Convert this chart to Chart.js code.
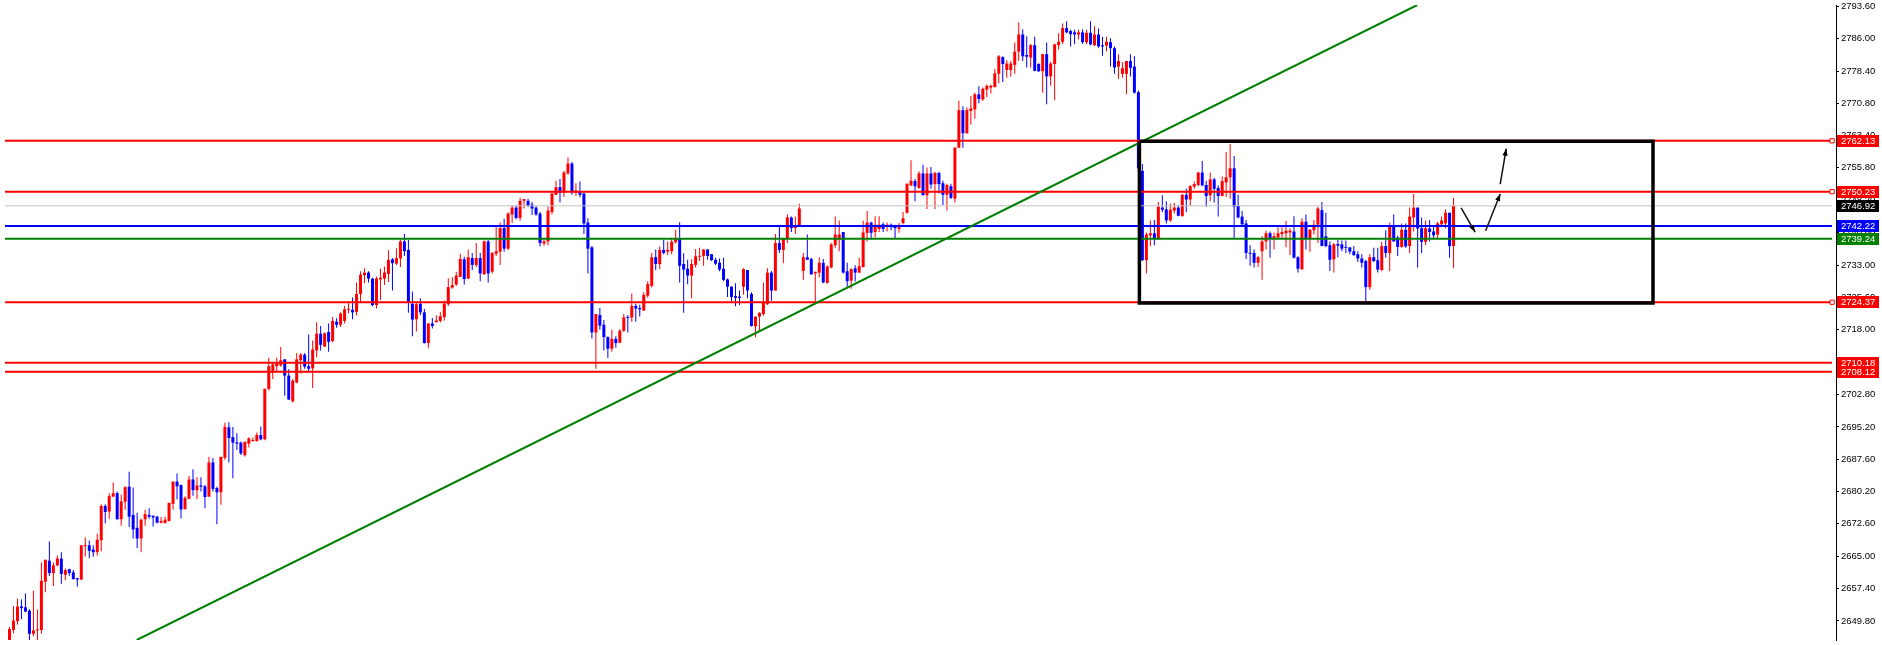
<!DOCTYPE html>
<html><head><meta charset="utf-8">
<script src="https://cdn.jsdelivr.net/npm/chart.js@4.4.1/dist/chart.umd.min.js"></script>
<style>html,body{margin:0;padding:0;background:#fff;overflow:hidden}canvas{display:block}</style>
</head><body>
<canvas id="c" width="1882" height="645"></canvas>
<script>
const openP = [
2643.7,2647.7,2649.8,2653.2,2653.0,2652.2,2646.8,2647.6,2647.7,2659.0,
2663.9,2661.0,2662.8,2664.4,2660.6,2661.9,2661.2,2659.8,2659.5,2667.3,
2667.5,2666.5,2665.9,2668.7,2676.7,2675.4,2678.9,2679.7,2673.6,2677.7,
2681.2,2674.6,2671.6,2669.1,2673.6,2674.6,2674.4,2674.2,2672.8,2672.7,
2673.2,2677.2,2682.4,2681.6,2676.0,2678.4,2682.9,2680.4,2681.5,2681.3,
2678.9,2686.9,2680.9,2679.9,2688.0,2695.1,2692.8,2691.6,2691.5,2688.6,
2691.3,2691.9,2691.9,2693.3,2692.3,2704.1,2707.9,2709.4,2709.6,2711.0,
2707.2,2701.2,2705.6,2710.8,2712.1,2709.4,2708.9,2713.1,2717.0,2714.0,
2717.4,2715.3,2719.8,2719.1,2720.0,2722.6,2722.6,2722.1,2726.3,2730.7,
2731.3,2729.9,2723.7,2729.7,2729.9,2731.0,2734.4,2733.4,2734.6,2738.6,
2736.6,2724.0,2720.4,2724.0,2722.0,2714.8,2719.4,2719.7,2720.0,2720.9,
2723.9,2727.8,2728.5,2730.3,2734.4,2729.9,2734.7,2733.1,2734.7,2730.9,
2738.6,2731.5,2735.7,2736.2,2741.7,2736.9,2744.9,2746.5,2744.1,2748.1,
2748.1,2747.2,2746.5,2745.1,2738.1,2738.6,2745.5,2749.5,2751.3,2750.1,
2754.5,2756.8,2750.0,2750.4,2749.8,2743.0,2737.2,2717.3,2721.4,2719.1,
2716.2,2713.5,2715.8,2714.9,2717.7,2720.9,2720.8,2723.5,2723.0,2722.4,
2725.9,2728.2,2734.9,2733.3,2736.6,2736.2,2736.3,2738.4,2739.2,2733.3,
2732.2,2730.6,2733.1,2735.0,2735.2,2736.7,2735.6,2734.3,2733.6,2732.2,
2729.7,2728.0,2725.8,2725.7,2728.0,2731.9,2726.3,2718.7,2721.0,2721.6,
2723.9,2731.3,2727.1,2738.2,2736.6,2739.2,2744.2,2741.7,2742.3,2731.7,
2734.9,2734.5,2731.1,2731.3,2733.6,2728.9,2732.5,2737.7,2739.0,2740.8,
2731.6,2729.4,2732.3,2731.3,2732.6,2740.6,2743.0,2740.8,2741.5,2742.6,
2742.0,2742.5,2742.0,2741.5,2742.9,2745.3,2751.7,2752.7,2751.1,2754.5,
2749.4,2754.5,2752.0,2754.6,2752.2,2749.5,2751.5,2748.6,2760.5,2769.3,
2763.9,2769.1,2769.5,2773.0,2771.8,2774.1,2774.6,2774.7,2777.8,2781.7,
2778.7,2778.7,2779.9,2783.0,2787.0,2782.2,2781.6,2784.5,2780.1,2778.4,
2782.4,2777.2,2780.1,2784.5,2785.3,2788.5,2787.8,2787.5,2787.0,2787.5,
2785.2,2787.4,2784.5,2787.0,2784.5,2784.4,2785.2,2783.8,2779.5,2777.8,
2777.8,2780.8,2779.5,2773.5,2755.1,2734.2,2740.0,2740.5,2739.2,2746.5,
2746.1,2743.5,2745.8,2746.5,2744.5,2749.5,2748.4,2751.4,2751.8,2754.7,
2751.8,2749.4,2753.1,2751.1,2749.2,2752.4,2753.6,2755.7,2746.9,2744.4,
2742.8,2735.9,2735.9,2733.6,2736.3,2738.6,2740.5,2739.2,2739.5,2740.3,
2740.5,2740.7,2740.9,2734.9,2732.1,2743.2,2739.2,2741.2,2742.5,2745.9,
2739.8,2737.7,2734.4,2738.0,2737.9,2737.2,2737.2,2736.3,2735.6,2734.6,
2734.0,2727.9,2734.9,2734.2,2731.9,2737.5,2735.9,2742.1,2739.5,2737.3,
2741.3,2737.5,2744.2,2746.5,2741.7,2738.5,2741.6,2740.9,2740.2,2742.6,
2742.8,2745.3,2737.5];
const highP = [
2648.4,2653.3,2655.0,2654.8,2656.2,2652.6,2656.9,2652.5,2663.5,2664.2,
2668.4,2663.5,2665.1,2665.9,2662.1,2662.0,2661.7,2659.9,2667.6,2669.3,
2668.6,2667.5,2670.2,2677.1,2677.1,2679.7,2682.2,2680.1,2679.4,2681.3,
2684.7,2681.0,2675.1,2673.7,2675.8,2676.2,2674.5,2674.4,2674.1,2674.2,
2677.5,2682.5,2684.3,2681.7,2679.0,2683.7,2685.3,2683.4,2683.4,2681.6,
2688.2,2687.9,2681.2,2688.2,2696.2,2696.3,2695.2,2693.7,2691.8,2691.8,
2692.8,2692.7,2693.9,2695.3,2704.2,2711.4,2710.3,2711.4,2713.9,2711.1,
2708.7,2706.4,2712.5,2712.5,2712.5,2716.8,2715.4,2719.7,2718.8,2717.3,
2719.4,2720.9,2720.6,2722.0,2723.5,2724.5,2725.5,2729.0,2731.6,2732.3,
2731.6,2730.1,2730.4,2732.2,2732.7,2736.5,2734.7,2737.0,2739.1,2740.3,
2738.9,2726.9,2724.2,2725.3,2722.8,2719.5,2720.7,2721.3,2722.0,2724.7,
2730.0,2730.2,2731.5,2735.7,2735.0,2736.7,2735.9,2738.2,2735.9,2738.8,
2739.0,2736.1,2742.2,2743.0,2743.9,2745.4,2747.1,2747.1,2748.8,2748.5,
2748.6,2747.8,2746.8,2745.5,2739.0,2746.7,2750.0,2752.8,2753.2,2755.1,
2758.2,2757.2,2752.2,2752.6,2750.0,2744.0,2737.5,2721.6,2723.0,2720.2,
2716.4,2717.9,2716.4,2718.1,2721.6,2721.3,2726.4,2724.0,2723.8,2726.7,
2729.3,2735.9,2736.7,2737.4,2738.9,2738.6,2739.4,2741.3,2743.1,2735.8,
2734.3,2734.4,2736.8,2737.1,2736.8,2736.7,2735.6,2734.8,2734.6,2734.8,
2729.9,2728.1,2728.8,2727.1,2732.3,2731.9,2726.7,2721.0,2722.0,2729.0,
2732.3,2731.7,2740.3,2742.1,2739.2,2744.9,2744.4,2744.4,2747.4,2735.9,
2740.2,2734.8,2731.5,2734.9,2734.5,2733.0,2738.2,2744.4,2743.5,2740.8,
2733.6,2732.3,2733.0,2734.8,2743.4,2745.7,2743.2,2744.5,2744.5,2743.0,
2743.0,2742.8,2742.5,2742.9,2745.5,2752.1,2757.6,2753.2,2755.0,2756.5,
2755.9,2756.0,2754.9,2754.9,2752.8,2752.1,2752.1,2760.7,2771.5,2770.2,
2769.9,2772.6,2773.4,2774.9,2774.6,2775.3,2775.3,2778.9,2782.2,2781.9,
2781.0,2780.8,2785.1,2789.8,2788.2,2786.6,2784.8,2786.5,2780.3,2782.5,
2785.1,2780.6,2784.8,2787.3,2789.6,2790.1,2788.1,2788.1,2788.1,2788.2,
2788.1,2790.1,2788.9,2788.4,2786.5,2786.5,2786.1,2784.2,2782.4,2780.5,
2780.8,2782.4,2781.9,2773.9,2756.7,2740.7,2743.5,2743.6,2747.8,2749.4,
2748.0,2747.4,2747.6,2747.1,2749.7,2750.9,2751.8,2752.6,2754.9,2757.4,
2752.8,2754.7,2753.4,2751.7,2753.8,2759.5,2761.4,2758.6,2749.5,2745.7,
2743.6,2737.7,2736.7,2735.2,2739.8,2741.1,2740.9,2740.7,2741.9,2741.9,
2743.4,2741.7,2744.5,2735.1,2744.0,2744.9,2741.5,2743.6,2746.7,2747.8,
2745.3,2738.6,2738.2,2739.0,2738.8,2738.8,2737.2,2737.5,2736.3,2735.6,
2734.3,2735.6,2737.1,2737.1,2738.5,2741.2,2743.0,2744.9,2739.9,2742.8,
2742.8,2746.5,2749.7,2746.5,2744.2,2743.5,2743.6,2742.1,2743.2,2744.4,
2746.1,2745.3,2748.8];
const lowP = [
2642.8,2646.9,2648.9,2650.2,2651.9,2645.3,2646.2,2645.3,2646.8,2656.5,
2660.3,2658.0,2662.6,2658.5,2659.4,2660.4,2659.5,2657.8,2659.4,2664.9,
2664.5,2664.8,2665.1,2666.1,2672.6,2673.7,2678.8,2673.5,2672.1,2675.8,
2671.8,2669.1,2666.8,2665.9,2672.1,2673.7,2671.9,2672.6,2672.6,2672.6,
2673.1,2675.8,2678.2,2673.8,2675.8,2678.3,2679.1,2678.3,2680.1,2676.2,
2678.8,2680.1,2672.4,2677.0,2687.5,2686.9,2683.2,2689.8,2688.6,2688.3,
2690.4,2691.7,2691.7,2692.1,2692.1,2703.7,2706.4,2708.2,2709.3,2702.5,
2701.5,2700.9,2705.4,2707.7,2708.8,2708.3,2704.3,2711.5,2713.1,2713.9,
2712.8,2715.0,2718.4,2718.6,2719.4,2721.8,2720.4,2721.3,2724.3,2728.8,
2729.0,2723.4,2722.9,2724.9,2728.4,2729.1,2727.1,2733.1,2732.6,2735.2,
2721.9,2716.4,2717.5,2721.4,2714.7,2713.6,2718.2,2719.6,2719.6,2720.1,
2723.5,2727.5,2728.2,2730.3,2728.5,2729.8,2731.9,2732.6,2729.3,2730.8,
2729.0,2731.1,2735.2,2733.1,2736.2,2736.6,2742.9,2743.8,2743.4,2746.3,
2746.7,2744.8,2744.6,2737.4,2737.6,2737.7,2744.9,2749.4,2747.7,2749.0,
2754.2,2749.5,2749.2,2748.9,2740.3,2731.1,2715.9,2708.8,2717.9,2713.1,
2711.3,2712.8,2713.7,2714.8,2717.4,2717.3,2719.8,2719.8,2721.0,2722.4,
2725.4,2727.8,2731.9,2732.1,2735.6,2735.4,2735.6,2738.1,2729.0,2721.9,
2728.6,2725.3,2732.5,2734.0,2732.9,2734.3,2734.0,2733.1,2731.6,2729.3,
2725.6,2724.3,2723.4,2723.7,2726.1,2725.3,2718.7,2716.2,2717.5,2721.2,
2723.7,2724.7,2727.1,2735.9,2733.5,2738.2,2740.8,2740.3,2742.1,2729.6,
2734.3,2730.8,2724.1,2730.2,2728.8,2728.7,2732.3,2737.1,2736.3,2731.1,
2728.0,2727.5,2729.2,2731.2,2732.5,2738.6,2739.0,2739.5,2740.8,2740.8,
2740.9,2741.2,2739.2,2740.6,2742.6,2745.1,2751.5,2748.0,2750.9,2749.4,
2746.2,2750.9,2746.2,2749.8,2747.1,2745.8,2748.5,2747.7,2760.5,2760.5,
2763.8,2765.9,2767.3,2770.9,2771.5,2772.4,2773.2,2774.6,2775.6,2775.9,
2776.9,2777.2,2777.8,2780.8,2780.8,2779.3,2779.3,2778.4,2778.2,2773.4,
2770.7,2775.0,2771.6,2783.5,2784.8,2787.3,2784.2,2784.7,2785.8,2784.8,
2784.7,2784.5,2784.3,2783.9,2782.0,2783.1,2779.5,2777.8,2776.6,2776.9,
2773.0,2777.2,2773.2,2754.7,2734.0,2731.1,2737.5,2737.7,2739.0,2745.4,
2742.8,2743.2,2745.1,2744.5,2744.4,2745.4,2746.9,2750.9,2751.5,2751.5,
2746.7,2748.0,2747.7,2744.4,2749.2,2749.0,2748.6,2739.2,2744.0,2742.3,
2734.5,2732.9,2732.5,2732.6,2729.6,2736.7,2734.8,2736.7,2739.2,2739.2,
2737.2,2735.4,2734.6,2731.3,2731.9,2736.7,2736.2,2740.2,2738.2,2737.5,
2737.2,2731.7,2731.3,2734.9,2736.3,2735.9,2735.6,2735.2,2733.8,2732.5,
2724.4,2727.3,2733.8,2731.3,2731.6,2734.8,2731.6,2738.5,2735.2,2737.1,
2737.1,2735.9,2740.9,2732.5,2735.9,2737.7,2738.6,2739.4,2739.2,2742.3,
2741.6,2734.8,2732.3];
const closeP = [
2647.9,2649.9,2653.2,2652.8,2652.0,2646.8,2647.6,2647.8,2659.2,2664.1,
2661.0,2662.8,2664.4,2660.8,2661.7,2661.0,2659.6,2659.5,2667.5,2667.5,
2666.2,2665.9,2668.8,2676.7,2675.3,2679.0,2679.7,2673.6,2677.8,2681.1,
2674.2,2671.2,2669.1,2673.5,2674.8,2674.2,2674.0,2672.8,2673.2,2673.5,
2677.4,2682.4,2681.3,2675.9,2678.6,2682.9,2680.4,2681.5,2681.2,2678.8,
2686.9,2680.7,2679.9,2688.2,2695.2,2692.6,2691.5,2691.3,2689.0,2691.7,
2692.5,2692.1,2693.3,2692.3,2704.1,2709.4,2709.8,2710.2,2710.8,2707.2,
2701.6,2706.0,2711.0,2712.1,2709.3,2708.8,2713.3,2717.0,2714.4,2717.1,
2715.1,2720.0,2719.1,2721.7,2722.7,2722.7,2722.0,2726.3,2730.8,2731.3,
2729.9,2723.7,2729.9,2730.1,2731.3,2734.3,2733.5,2734.7,2738.6,2736.3,
2724.2,2720.3,2723.9,2722.0,2714.8,2719.4,2718.8,2720.1,2721.1,2724.0,
2727.9,2728.4,2730.6,2734.5,2729.8,2734.9,2733.1,2734.7,2731.1,2738.6,
2731.1,2735.9,2736.3,2741.7,2736.9,2745.1,2746.5,2744.1,2748.1,2748.5,
2746.9,2746.3,2744.9,2738.2,2738.6,2745.8,2749.8,2751.3,2750.0,2754.7,
2756.8,2750.0,2750.5,2749.5,2742.8,2736.9,2717.3,2721.6,2718.9,2716.2,
2713.5,2715.8,2714.8,2717.7,2720.8,2720.7,2723.5,2722.9,2722.7,2726.1,
2728.6,2734.9,2733.3,2736.6,2735.9,2736.6,2738.5,2739.2,2732.9,2732.0,
2730.6,2733.3,2735.1,2735.2,2736.7,2735.2,2734.2,2733.4,2732.0,2729.6,
2728.0,2725.6,2725.4,2725.4,2732.1,2727.1,2718.8,2721.0,2721.9,2724.4,
2731.3,2727.1,2738.2,2736.6,2739.2,2744.2,2741.7,2742.1,2746.3,2734.9,
2734.3,2730.9,2731.5,2733.6,2729.0,2732.7,2737.9,2740.2,2740.2,2731.3,
2729.3,2732.1,2731.3,2732.8,2740.7,2743.0,2740.6,2742.5,2742.5,2741.5,
2742.5,2741.9,2741.7,2741.9,2744.0,2752.1,2752.8,2751.5,2754.5,2749.4,
2754.5,2751.9,2754.6,2752.0,2749.5,2751.8,2748.8,2760.5,2769.3,2763.9,
2769.3,2769.7,2773.0,2771.9,2774.3,2775.0,2775.0,2777.9,2781.9,2780.1,
2780.2,2780.2,2783.0,2787.0,2781.9,2781.8,2784.5,2778.5,2778.4,2782.4,
2777.2,2780.2,2784.7,2785.3,2788.5,2787.5,2787.1,2787.0,2787.5,2785.2,
2787.4,2784.7,2787.0,2784.2,2784.2,2785.3,2783.8,2779.3,2780.8,2779.1,
2780.8,2779.2,2773.4,2755.7,2734.2,2740.2,2740.5,2739.2,2746.7,2746.0,
2743.5,2746.0,2746.5,2744.6,2749.5,2748.4,2751.5,2752.0,2754.7,2751.7,
2749.2,2753.1,2750.9,2749.2,2752.7,2753.6,2755.7,2746.7,2744.2,2742.6,
2735.9,2735.7,2733.6,2734.9,2738.6,2740.5,2739.2,2739.8,2740.5,2740.8,
2741.1,2741.1,2734.8,2732.2,2743.2,2739.2,2741.3,2742.5,2746.3,2737.5,
2737.5,2734.3,2737.9,2737.6,2736.9,2737.1,2736.2,2735.4,2734.6,2733.6,
2727.9,2734.9,2734.0,2732.0,2737.5,2735.9,2742.1,2738.6,2737.3,2741.3,
2737.4,2744.4,2746.5,2741.6,2738.5,2741.7,2740.8,2740.0,2742.8,2743.5,
2745.3,2737.5,2746.9];

// price axis ticks
const yTickValues = [2793.6,2786.0,2778.4,2770.8,2763.4,2755.8,2748.2,2740.6,2733.0,2725.6,
  2718.0,2710.4,2702.8,2695.2,2687.6,2680.2,2672.6,2665.0,2657.4,2649.8];
// horizontal levels
const levelPrices = [2762.13, 2750.23, 2746.92, 2742.22, 2739.24, 2724.37, 2710.18, 2708.12];
const levelKinds  = ['red','red','gray','blue','green','red','red','red'];
const levelMarker = [true, true, false, false, false, true, false, false];
// trend line, box and arrows (bar index, price)
const trendX = [31.9, 352.9];
const trendY = [2645.35, 2793.9];
const boxX = [283.25, 412.0];
const boxY = [2762.0, 2724.2];
const arrowX = [[363.9, 367.4], [370.05, 373.7], [373.7, 375.2]];
const arrowY = [[2746.46, 2740.77], [2741.09, 2749.68], [2751.99, 2760.28]];

const UP = '#ff0000', DOWN = '#0000ff';
const levelStyles = {
  red:   {line: '#ff0000', width: 2, box: '#ff0000'},
  gray:  {line: '#c0c0c0', width: 1, box: '#000000'},
  blue:  {line: '#0000ff', width: 2, box: '#0000ff'},
  green: {line: '#008000', width: 2, box: '#008000'}
};

const n = closeP.length;
const candleColors = closeP.map((c, i) => c >= openP[i] ? UP : DOWN);
const wickData = closeP.map((c, i) => ({x: i, y: [lowP[i], highP[i]]}));
const bodyData = closeP.map((c, i) => ({x: i, y: [openP[i], c]}));

const datasets = [];
datasets.push({type: 'bar', data: wickData, backgroundColor: candleColors, grouped: false,
  barPercentage: 1, categoryPercentage: 1, maxBarThickness: 1, borderWidth: 0, inflateAmount: 0, order: 20});
datasets.push({type: 'bar', data: bodyData, backgroundColor: candleColors, grouped: false,
  barPercentage: 1, categoryPercentage: 1, maxBarThickness: 3, minBarLength: 1, borderWidth: 0, inflateAmount: 0, order: 19});

const xMin = -1.125, xMax = 457.875, markerX = 456.9;
levelPrices.forEach((p, k) => {
  const st = levelStyles[levelKinds[k]];
  datasets.push({type: 'line', data: [{x: xMin, y: p}, {x: markerX, y: p}],
    borderColor: st.line, borderWidth: st.width, tension: 0,
    pointRadius: [0, levelMarker[k] ? 3 : 0], pointStyle: 'rect',
    pointBackgroundColor: '#ffffff', pointBorderColor: st.line, pointBorderWidth: 1,
    order: 10});
});
datasets.push({type: 'line', data: trendX.map((x, i) => ({x, y: trendY[i]})),
  borderColor: '#008000', borderWidth: 2, pointRadius: 0, tension: 0, order: 9});
datasets.push({type: 'line', data: [
    {x: boxX[0], y: boxY[0]}, {x: boxX[1], y: boxY[0]}, {x: boxX[1], y: boxY[1]},
    {x: boxX[0], y: boxY[1]}, {x: boxX[0], y: boxY[0]}],
  borderColor: '#000000', borderWidth: 3.5, pointRadius: 0, tension: 0,
  borderJoinStyle: 'miter', order: 8});
arrowX.forEach((xs, k) => {
  datasets.push({type: 'line', isArrow: true, data: xs.map((x, j) => ({x, y: arrowY[k][j]})),
    borderColor: '#111111', borderWidth: 1.5, pointRadius: 0, tension: 0, order: 7});
});

const arrowPlugin = {
  id: 'arrowHeads',
  afterDatasetsDraw(chart) {
    const ctx = chart.ctx;
    chart.data.datasets.forEach((ds, di) => {
      if (!ds.isArrow) return;
      const pts = chart.getDatasetMeta(di).data;
      const a = pts[pts.length - 2], b = pts[pts.length - 1];
      const ang = Math.atan2(b.y - a.y, b.x - a.x);
      const L = 7, W = 2.6;
      const bx = b.x - L * Math.cos(ang), by = b.y - L * Math.sin(ang);
      ctx.save();
      ctx.fillStyle = '#000';
      ctx.beginPath();
      ctx.moveTo(b.x, b.y);
      ctx.lineTo(bx + W * Math.sin(ang), by - W * Math.cos(ang));
      ctx.lineTo(bx - W * Math.sin(ang), by + W * Math.cos(ang));
      ctx.closePath();
      ctx.fill();
      ctx.restore();
    });
  }
};

const labelPlugin = {
  id: 'levelLabels',
  afterDraw(chart) {
    const ctx = chart.ctx, ys = chart.scales.y, area = chart.chartArea;
    ctx.save();
    const pos = levelPrices.map(p => Math.round(ys.getPixelForValue(p)));
    levelPrices.forEach((p, k) => {
      ctx.fillStyle = levelStyles[levelKinds[k]].box;
      ctx.fillRect(area.right + 1, pos[k] - 6, 42, 12);
    });
    ctx.font = '9.5px "Liberation Sans", Arial, sans-serif';
    ctx.textBaseline = 'middle';
    ctx.textAlign = 'left';
    ctx.fillStyle = '#ffffff';
    levelPrices.forEach((p, k) => {
      ctx.fillText(p.toFixed(2), area.right + 5, pos[k] + 0.5);
    });
    ctx.restore();
  }
};

new Chart(document.getElementById('c'), {
  type: 'bar',
  data: {datasets},
  plugins: [arrowPlugin, labelPlugin],
  options: {
    responsive: false, animation: false, devicePixelRatio: 1,
    layout: {padding: 0},
    plugins: {legend: {display: false}, tooltip: {enabled: false}},
    scales: {
      x: {type: 'linear', display: false, min: xMin, max: xMax, offset: false},
      y: {type: 'linear', position: 'right', min: 2645.35, max: 2793.9,
        afterBuildTicks: s => { s.ticks = yTickValues.map(v => ({value: v})); },
        afterFit: s => { s.width = 46; s.paddingTop = 0; s.paddingBottom = 0; },
        ticks: {callback: v => Number(v).toFixed(2), autoSkip: false,
          font: {family: '"Liberation Sans", Arial, sans-serif', size: 9.5},
          color: '#000000', padding: 2},
        grid: {drawOnChartArea: false, drawTicks: true, tickLength: 3, tickColor: '#000000'},
        border: {display: true, color: '#000000', width: 1}
      }
    }
  }
});
</script>
</body></html>
